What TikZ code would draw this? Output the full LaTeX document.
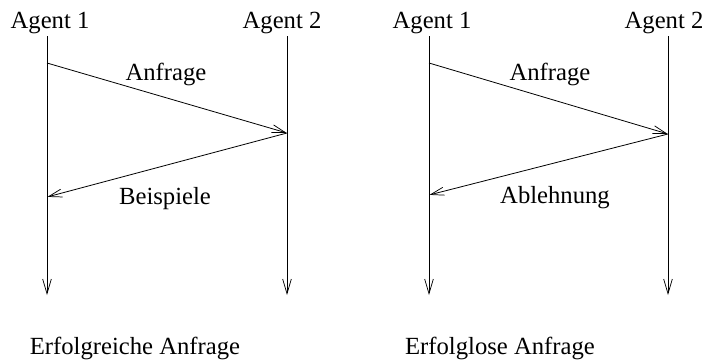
\documentclass[tikz,border=0pt]{standalone}
\usepackage{fontspec}
\setmainfont{Liberation Serif}
\usetikzlibrary{arrows.meta}
\begin{document}
\begin{tikzpicture}[x=0.75pt,y=-0.75pt,
  lbl/.style={anchor=base,inner sep=0pt,font=\fontsize{18.5}{22}\selectfont},
  life/.style={line width=0.6pt,-{Straight Barb[length=11pt,width=6.5pt,line width=0.55pt]}},
  msg/.style={line width=0.6pt,-{Straight Barb[length=10pt,width=6pt,line width=0.55pt]},shorten >=0.4pt}]
\useasboundingbox (0,0) rectangle (704,362);

% left scenario
\node[lbl] (a1) at (50,28) {Agent 1};
\node[lbl] (a2) at (282,28) {Agent 2};
\coordinate (a1top) at (47,36);
\coordinate (a1bot) at (47,295);
\coordinate (a2top) at (287,36);
\coordinate (a2bot) at (287,295);
\coordinate (q1s) at (47,63);
\coordinate (q1e) at (287,133);
\coordinate (r1e) at (47,197);
\draw[life] (a1top) -- (a1bot);
\draw[life] (a2top) -- (a2bot);
\draw[msg] (q1s) -- (q1e);
\draw[msg] (q1e) -- (r1e);
\node[lbl] (q1) at (166,80) {Anfrage};
\node[lbl] (r1) at (165,204) {Beispiele};
\node[lbl] (c1) at (135,354) {Erfolgreiche Anfrage};

% right scenario
\node[lbl] (b1) at (432,28) {Agent 1};
\node[lbl] (b2) at (664,28) {Agent 2};
\coordinate (b1top) at (429,36);
\coordinate (b1bot) at (429,295);
\coordinate (b2top) at (668,36);
\coordinate (b2bot) at (668,295);
\coordinate (q2s) at (429,63);
\coordinate (q2e) at (668,134);
\coordinate (r2e) at (429,195);
\draw[life] (b1top) -- (b1bot);
\draw[life] (b2top) -- (b2bot);
\draw[msg] (q2s) -- (q2e);
\draw[msg] (q2e) -- (r2e);
\node[lbl] (q2) at (550,80) {Anfrage};
\node[lbl] (r2) at (555,203) {Ablehnung};
\node[lbl] (c2) at (500,354) {Erfolglose Anfrage};
\end{tikzpicture}
\end{document}
